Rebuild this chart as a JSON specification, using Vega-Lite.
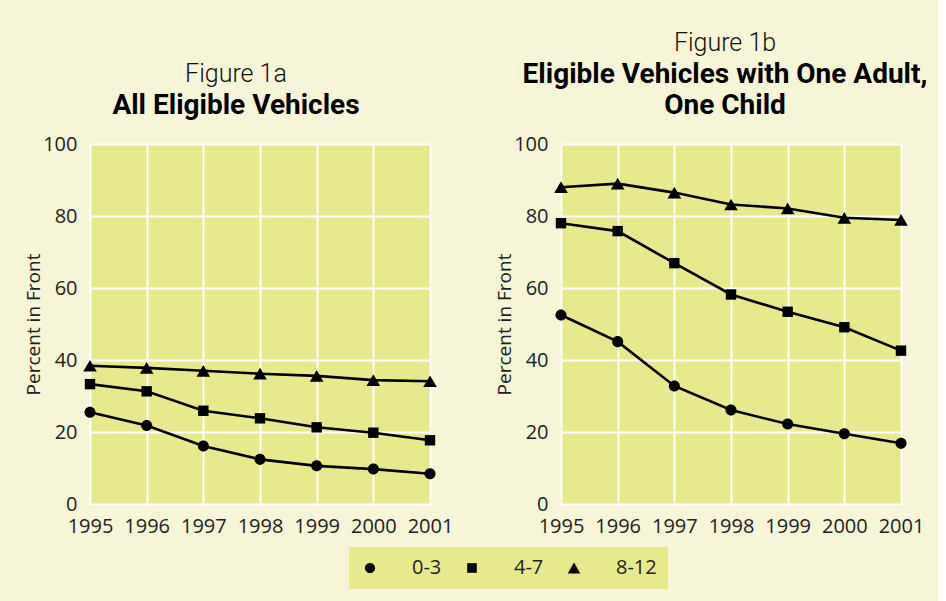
{
  "$schema": "https://vega.github.io/schema/vega-lite/v6.json",
  "background": "#f6f5d8",
  "padding": {"left": 24, "top": 31, "right": 10, "bottom": 12},
  "config": {
    "font": "Open Sans",
    "view": {"stroke": null, "fill": "#e7e98d"},
    "axis": {
      "labelFont": "Open Sans", "labelFontSize": 20, "labelColor": "#222",
      "titleFont": "Open Sans", "titleFontSize": 19, "titleColor": "#222", "titleFontWeight": "normal",
      "grid": true, "gridColor": "white", "gridWidth": 1.8, "gridOpacity": 1,
      "domain": false, "ticks": false
    },
    "title": {
      "font": "Roboto", "fontSize": 25, "fontWeight": 300, "color": "#111",
      "subtitleFont": "Roboto", "subtitleFontSize": 28, "subtitleFontWeight": "bold", "subtitleColor": "#000",
      "subtitlePadding": 5, "subtitleLineHeight": 31, "anchor": "middle", "offset": 14
    },
    "legend": {
      "labelFont": "Open Sans", "labelFontSize": 20, "labelColor": "#222"
    }
  },
  "data": {"values": [
    {"panel": "a", "year": 1995, "group": "0-3", "pct": 25.5},
    {"panel": "a", "year": 1996, "group": "0-3", "pct": 21.8},
    {"panel": "a", "year": 1997, "group": "0-3", "pct": 16.1},
    {"panel": "a", "year": 1998, "group": "0-3", "pct": 12.4},
    {"panel": "a", "year": 1999, "group": "0-3", "pct": 10.6},
    {"panel": "a", "year": 2000, "group": "0-3", "pct": 9.7},
    {"panel": "a", "year": 2001, "group": "0-3", "pct": 8.4},
    {"panel": "a", "year": 1995, "group": "4-7", "pct": 33.3},
    {"panel": "a", "year": 1996, "group": "4-7", "pct": 31.3},
    {"panel": "a", "year": 1997, "group": "4-7", "pct": 25.9},
    {"panel": "a", "year": 1998, "group": "4-7", "pct": 23.8},
    {"panel": "a", "year": 1999, "group": "4-7", "pct": 21.3},
    {"panel": "a", "year": 2000, "group": "4-7", "pct": 19.8},
    {"panel": "a", "year": 2001, "group": "4-7", "pct": 17.7},
    {"panel": "a", "year": 1995, "group": "8-12", "pct": 38.4},
    {"panel": "a", "year": 1996, "group": "8-12", "pct": 37.8},
    {"panel": "a", "year": 1997, "group": "8-12", "pct": 37.0},
    {"panel": "a", "year": 1998, "group": "8-12", "pct": 36.2},
    {"panel": "a", "year": 1999, "group": "8-12", "pct": 35.6},
    {"panel": "a", "year": 2000, "group": "8-12", "pct": 34.4},
    {"panel": "a", "year": 2001, "group": "8-12", "pct": 34.1},
    {"panel": "b", "year": 1995, "group": "0-3", "pct": 52.5},
    {"panel": "b", "year": 1996, "group": "0-3", "pct": 45.1},
    {"panel": "b", "year": 1997, "group": "0-3", "pct": 32.8},
    {"panel": "b", "year": 1998, "group": "0-3", "pct": 26.1},
    {"panel": "b", "year": 1999, "group": "0-3", "pct": 22.2},
    {"panel": "b", "year": 2000, "group": "0-3", "pct": 19.5},
    {"panel": "b", "year": 2001, "group": "0-3", "pct": 16.9},
    {"panel": "b", "year": 1995, "group": "4-7", "pct": 78.0},
    {"panel": "b", "year": 1996, "group": "4-7", "pct": 75.8},
    {"panel": "b", "year": 1997, "group": "4-7", "pct": 66.9},
    {"panel": "b", "year": 1998, "group": "4-7", "pct": 58.2},
    {"panel": "b", "year": 1999, "group": "4-7", "pct": 53.4},
    {"panel": "b", "year": 2000, "group": "4-7", "pct": 49.1},
    {"panel": "b", "year": 2001, "group": "4-7", "pct": 42.6},
    {"panel": "b", "year": 1995, "group": "8-12", "pct": 88.0},
    {"panel": "b", "year": 1996, "group": "8-12", "pct": 89.0},
    {"panel": "b", "year": 1997, "group": "8-12", "pct": 86.5},
    {"panel": "b", "year": 1998, "group": "8-12", "pct": 83.2},
    {"panel": "b", "year": 1999, "group": "8-12", "pct": 82.1},
    {"panel": "b", "year": 2000, "group": "8-12", "pct": 79.5},
    {"panel": "b", "year": 2001, "group": "8-12", "pct": 78.9}
  ]},
  "resolve": {"scale": {"shape": "shared", "color": "shared"}, "legend": {"color": "shared"}},
  "spacing": 131,
  "bounds": "flush",
  "hconcat": [
    {
      "width": 340, "height": 360,
      "title": {"text": "Figure 1a", "subtitle": "All Eligible Vehicles", "dx": -24},
      "transform": [{"filter": "datum.panel === 'a'"}],
      "encoding": {
        "x": {"field": "year", "type": "quantitative", "scale": {"domain": [1995, 2001], "nice": false, "zero": false},
              "axis": {"values": [1995, 1996, 1997, 1998, 1999, 2000, 2001], "format": "d", "title": null, "labelPadding": 12, "labelFlush": false}},
        "y": {"field": "pct", "type": "quantitative", "scale": {"domain": [0, 100], "nice": false},
              "axis": {"values": [0, 20, 40, 60, 80, 100], "title": "Percent in Front", "labelPadding": 13, "titlePadding": -1}}
      },
      "layer": [
        {"mark": {"type": "point", "filled": true, "opacity": 1, "size": 16},
         "encoding": {
           "color": {"field": "group", "type": "nominal",
             "scale": {"domain": ["0-3", "4-7", "8-12"], "range": ["black", "black", "black"]},
             "legend": {
               "title": null, "orient": "none", "direction": "horizontal", "legendX": 259, "legendY": 403,
               "fillColor": "#e7e98d", "padding": 11, "symbolSize": 144, "labelOffset": 32, "columnPadding": 20,
               "symbolStrokeWidth": 0, "symbolOpacity": 1,
               "encoding": {"symbols": {
                 "shape": {"value": {"expr": "datum.value === '0-3' ? 'M-1,-0.2H5V0.2H-1Z M3,0A1,1,0,1,1,1,0A1,1,0,1,1,3,0Z' : datum.value === '4-7' ? 'M-1,-0.2H5V0.2H-1Z M1.1,-0.9H2.9V0.9H1.1Z' : 'M-1,-0.2H5V0.2H-1Z M2,-1.1L3.2,0.9H0.8Z'"}},
                 "size": {"value": 144}, "opacity": {"value": 1}
               }}
             }}
         }},
        {"mark": {"type": "line", "color": "black", "strokeWidth": 2.6}, "encoding": {"detail": {"field": "group"}}},
        {"mark": {"type": "point", "filled": true, "color": "black", "opacity": 1, "size": 169},
         "encoding": {
           "shape": {"field": "group", "type": "nominal", "legend": null,
             "scale": {"domain": ["0-3", "4-7", "8-12"], "range": ["M0.85,0A0.85,0.85,0,1,1,-0.85,0A0.85,0.85,0,1,1,0.85,0Z", "M-0.8,-0.8H0.8V0.8H-0.8Z", "M0,-0.9L1.05,0.9H-1.05Z"]}}
         }}
      ]
    },
    {
      "width": 340, "height": 360,
      "title": {"text": "Figure 1b", "subtitle": ["Eligible Vehicles with One Adult,", "One Child"], "dx": -6},
      "transform": [{"filter": "datum.panel === 'b'"}],
      "encoding": {
        "x": {"field": "year", "type": "quantitative", "scale": {"domain": [1995, 2001], "nice": false, "zero": false},
              "axis": {"values": [1995, 1996, 1997, 1998, 1999, 2000, 2001], "format": "d", "title": null, "labelPadding": 12, "labelFlush": false}},
        "y": {"field": "pct", "type": "quantitative", "scale": {"domain": [0, 100], "nice": false},
              "axis": {"values": [0, 20, 40, 60, 80, 100], "title": "Percent in Front", "labelPadding": 13, "titlePadding": -1}}
      },
      "layer": [
        {"mark": {"type": "point", "filled": true, "opacity": 1, "size": 16},
         "encoding": {
           "color": {"field": "group", "type": "nominal",
             "scale": {"domain": ["0-3", "4-7", "8-12"], "range": ["black", "black", "black"]},
             "legend": {
               "title": null, "orient": "none", "direction": "horizontal", "legendX": 259, "legendY": 403,
               "fillColor": "#e7e98d", "padding": 11, "symbolSize": 144, "labelOffset": 32, "columnPadding": 20,
               "symbolStrokeWidth": 0, "symbolOpacity": 1,
               "encoding": {"symbols": {
                 "shape": {"value": {"expr": "datum.value === '0-3' ? 'M-1,-0.2H5V0.2H-1Z M3,0A1,1,0,1,1,1,0A1,1,0,1,1,3,0Z' : datum.value === '4-7' ? 'M-1,-0.2H5V0.2H-1Z M1.1,-0.9H2.9V0.9H1.1Z' : 'M-1,-0.2H5V0.2H-1Z M2,-1.1L3.2,0.9H0.8Z'"}},
                 "size": {"value": 144}, "opacity": {"value": 1}
               }}
             }}
         }},
        {"mark": {"type": "line", "color": "black", "strokeWidth": 2.6}, "encoding": {"detail": {"field": "group"}}},
        {"mark": {"type": "point", "filled": true, "color": "black", "opacity": 1, "size": 169},
         "encoding": {
           "shape": {"field": "group", "type": "nominal", "legend": null,
             "scale": {"domain": ["0-3", "4-7", "8-12"], "range": ["M0.85,0A0.85,0.85,0,1,1,-0.85,0A0.85,0.85,0,1,1,0.85,0Z", "M-0.8,-0.8H0.8V0.8H-0.8Z", "M0,-0.9L1.05,0.9H-1.05Z"]}}
         }}
      ]
    }
  ]
}
